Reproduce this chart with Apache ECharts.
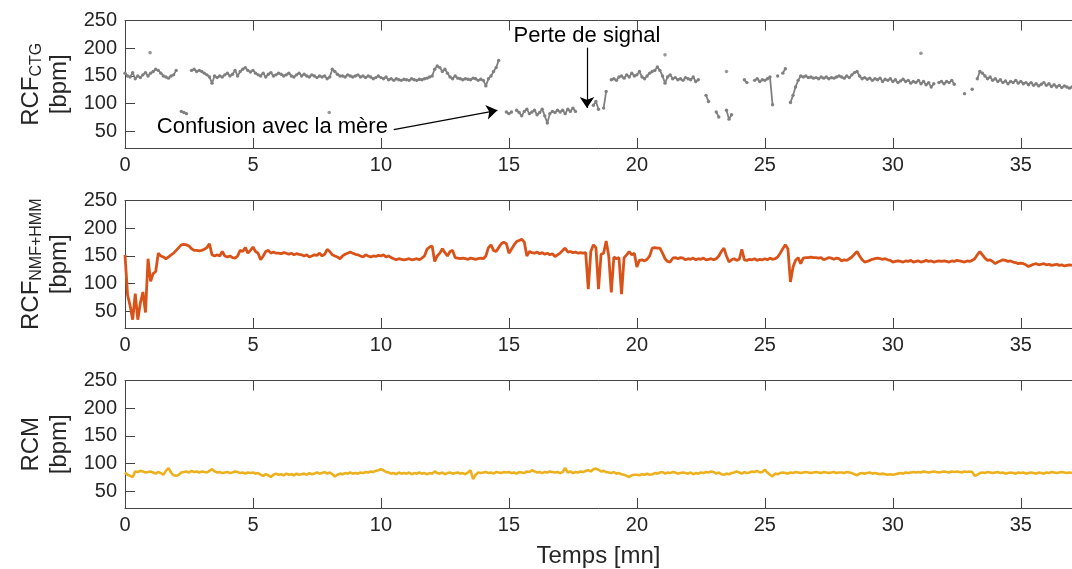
<!DOCTYPE html>
<html><head><meta charset="utf-8">
<script src="https://cdn.jsdelivr.net/npm/echarts@6/dist/echarts.min.js"></script>
<style>html,body{margin:0;padding:0;background:#fff}#c{width:1072px;height:569px}</style>
</head><body><div id="c"></div>
<script>
// sampling step of the traces (minutes)
const dt = 0.1;

// RCF CTG (gray dots), one value per 0.1 min, null = signal gap
const ctg = [
155,150,148,156,145,150,147,152,156,150,
155,158,162,160,155,150,148,146,150,152,
160,null,86,84,82,null,160,162,158,160,
158,155,152,148,137,150,147,150,148,152,
155,150,153,160,150,158,162,165,160,157,
160,155,152,150,155,148,153,156,150,152,
155,153,150,152,155,150,148,152,155,150,
153,150,148,152,150,147,150,148,150,145,
148,162,158,153,150,150,148,152,150,148,
150,152,148,150,147,150,148,145,147,150,
147,145,148,143,145,142,145,143,142,144,
143,142,145,143,142,144,143,145,146,148,
150,162,168,165,158,162,155,148,145,150,
146,145,143,145,144,143,146,145,142,144,
142,132,145,150,158,165,178,null,null,85,
82,85,null,88,84,78,86,90,82,85,
88,80,84,90,78,65,82,86,84,88,
85,88,82,90,86,92,86,null,null,null,
null,null,null,97,104,90,null,92,122,null,
143,145,142,148,150,146,152,148,155,150,
152,158,148,145,150,155,158,160,166,160,
150,137,148,152,145,147,143,145,142,147,
145,143,148,140,143,null,null,115,104,null,
null,85,76,null,null,88,72,80,null,null,
null,null,143,138,null,null,142,145,140,143,
142,145,148,98,null,150,null,155,163,null,
102,115,130,142,150,148,150,147,148,146,
147,145,148,146,148,145,147,146,148,150,
148,146,150,147,152,156,158,150,145,147,
144,146,142,145,143,146,140,144,142,145,
140,143,138,141,144,140,142,137,140,138,
142,136,140,134,138,130,136,null,138,140,
136,140,138,142,135,null,null,null,118,null,
null,126,null,145,158,155,150,145,148,142,
145,140,143,138,141,136,140,138,142,137,
140,136,138,134,138,133,136,132,135,138,
133,136,131,134,130,133,129,132,130,128,
130];

// isolated CTG points [time, bpm]
const ctgIsolated = [[0.98,192],[7.98,84],[21.1,188],[23.5,158],[31.1,191]];

// RCF NMF+HMM (orange), one value per 0.1 min
const nmf = [
152,80,60,35,82,35,65,85,48,145,
104,118,122,155,150,148,145,148,152,155,
160,165,170,171,170,168,163,160,160,159,
160,162,165,172,152,150,152,150,158,150,
148,150,147,146,150,160,158,165,155,160,
166,158,155,143,150,158,160,155,157,155,
155,154,156,155,153,155,152,154,153,152,
150,152,148,150,152,151,155,150,153,162,
158,152,150,148,145,150,153,155,157,155,
153,152,150,148,152,150,148,150,149,151,
150,152,148,150,147,145,143,145,144,143,
144,145,143,144,145,143,146,150,162,166,
168,140,150,155,163,156,150,158,160,147,
146,145,146,145,144,146,145,144,145,146,
145,150,165,170,160,158,165,172,175,172,
155,162,170,176,178,180,175,150,158,156,
155,157,154,156,153,155,152,154,149,152,
155,160,164,157,158,156,157,155,156,155,
156,90,158,170,165,90,153,155,177,150,
84,148,145,147,81,147,152,158,152,155,
130,142,143,141,144,150,164,165,164,164,
155,145,140,139,146,147,145,147,146,143,
145,144,146,143,145,144,146,143,144,145,
143,145,150,158,164,150,139,143,145,142,
144,162,143,142,144,143,145,142,144,143,
145,143,146,144,145,148,155,163,170,163,
103,130,142,147,136,146,147,147,148,147,
147,146,147,143,145,147,146,144,146,145,
141,143,142,145,148,153,158,150,143,139,
140,142,144,145,146,145,144,145,143,142,
139,140,141,140,139,141,140,142,139,140,
141,139,140,142,140,141,139,140,141,140,
141,140,139,141,140,142,141,140,139,141,
140,142,145,152,158,152,146,142,143,140,
136,139,141,143,142,140,141,139,138,136,
137,136,134,131,133,135,136,134,135,136,
134,135,133,134,135,133,134,132,133,134,
133];

// RCM (yellow), one value per 0.1 min
const rcm = [
84,80,78,76,86,85,87,86,84,85,
86,84,82,85,83,80,87,92,84,79,
78,80,84,85,86,84,87,85,86,84,
86,85,84,87,90,86,84,85,83,84,
85,83,84,86,85,83,84,82,84,83,
84,82,83,80,78,81,79,76,80,82,
80,81,79,82,80,81,79,82,80,81,
82,80,83,81,82,84,82,83,85,82,
84,81,77,80,82,81,83,82,84,82,
83,82,84,83,85,84,86,85,87,88,
90,88,85,84,82,83,81,84,82,83,
82,84,81,83,82,84,82,83,81,83,
82,86,83,82,84,81,83,84,82,83,
84,82,83,81,84,88,72,80,84,83,
84,85,83,84,82,85,84,83,85,84,
85,83,84,82,85,84,83,86,85,88,
86,84,85,83,85,84,86,85,84,85,
83,85,92,84,86,83,85,84,86,85,
87,88,86,90,91,89,86,87,85,84,
83,85,82,83,81,80,78,76,79,80,
80,79,81,80,82,80,81,83,82,84,
85,82,84,83,85,84,82,83,84,83,
82,84,81,83,82,84,83,85,84,86,
85,82,84,81,80,82,81,83,84,86,
84,82,85,83,84,86,85,87,84,85,
89,84,80,77,82,81,83,84,83,82,
84,83,85,84,83,84,85,84,83,84,
85,84,83,85,84,83,84,85,83,84,
84,83,85,84,83,81,79,82,83,82,
83,84,82,83,82,81,82,81,80,81,
80,81,82,83,82,84,83,84,85,84,
85,84,86,85,84,85,86,85,84,85,
86,85,84,86,85,86,85,84,86,85,
86,85,78,80,83,84,83,85,84,83,
84,85,83,84,82,83,84,83,82,84,
83,84,82,83,84,83,82,84,83,82,
84,83,85,84,83,84,85,84,83,84,
83];

const xTicks = [0,5,10,15,20,25,30,35];
const yTicks = [50,100,150,200,250];
const xRange = [0, 37];
const yRange = [20, 250];
const yNames = ['{m|RCF}{s|CTG}\n{m|[bpm]}', '{m|RCF}{s|NMF+HMM}\n{m|[bpm]}', '{m|RCM}\n{m|[bpm]}'];
const xName = 'Temps [mn]';
const noteConfusion = {text: 'Confusion avec la mère', at: [10.35, 58], from: [10.5, 53], to: [14.55, 88]};
const noteSignal = {text: 'Perte de signal', at: [18.05, 223], from: [18.05, 201], to: [18.05, 92]};

const FONT = 'Liberation Sans, Arial, Helvetica, sans-serif';
const AX = '#262626';
const BOX = '#444444';

const toPairs = arr => arr.map((v, i) => [Math.round(i * dt * 100) / 100, v]);

const tops = [20.5, 200.5, 380.5];
const grids = tops.map(t => ({left: 125, right: 0, top: t, height: 127.5}));

const xAxes = [];
tops.forEach((t, g) => {
  xAxes.push({
    type: 'value', gridIndex: g, min: xRange[0], max: xRange[1], position: 'bottom',
    axisLine: {show: true, lineStyle: {color: BOX, width: 1}},
    axisTick: {show: true, inside: true, length: 10, customValues: xTicks, lineStyle: {color: BOX}},
    axisLabel: {show: true, customValues: xTicks, fontSize: 20, color: AX, fontFamily: FONT, margin: 7},
    splitLine: {show: false},
    name: g === 2 ? xName : '', nameLocation: 'middle', nameGap: 36,
    nameTextStyle: {fontSize: 24, color: AX, fontFamily: FONT}
  });
  xAxes.push({
    type: 'value', gridIndex: g, min: xRange[0], max: xRange[1], position: 'top',
    axisLine: {show: true, lineStyle: {color: BOX, width: 1}},
    axisTick: {show: true, inside: true, length: 10, customValues: xTicks, lineStyle: {color: BOX}},
    axisLabel: {show: false}, splitLine: {show: false}
  });
});

const yAxes = tops.map((t, g) => ({
  type: 'value', gridIndex: g, min: yRange[0], max: yRange[1],
  axisLine: {show: true, lineStyle: {color: BOX, width: 1}},
  axisTick: {show: true, inside: true, length: 10, customValues: yTicks, lineStyle: {color: BOX}},
  axisLabel: {show: true, customValues: yTicks, fontSize: 20, color: AX, fontFamily: FONT, margin: 8},
  splitLine: {show: false},
  name: yNames[g], nameLocation: 'middle', nameRotate: 90, nameGap: 52,
  nameTextStyle: {
    color: AX, fontFamily: FONT, fontSize: 24, align: 'center',
    rich: {
      m: {fontSize: 24, lineHeight: 28, fontFamily: FONT, color: AX},
      s: {fontSize: 16, lineHeight: 16, verticalAlign: 'bottom', fontFamily: FONT, color: AX}
    }
  }
}));

const labelStyle = {show: true, fontSize: 22, color: '#000', fontFamily: FONT};

const option = {
  animation: false,
  backgroundColor: '#fff',
  grid: grids,
  xAxis: xAxes,
  yAxis: yAxes,
  series: [
    {
      type: 'line', xAxisIndex: 0, yAxisIndex: 0, data: toPairs(ctg),
      connectNulls: false, showSymbol: true, showAllSymbol: true,
      symbol: 'circle', symbolSize: 3.4,
      lineStyle: {color: '#808080', width: 1.8},
      itemStyle: {color: '#808080', borderWidth: 0}, silent: true,
      markLine: {
        silent: true, symbol: ['none', 'arrow'], symbolSize: 11,
        lineStyle: {color: '#000', width: 1.2, type: 'solid'},
        label: {show: false},
        data: [
          [{coord: noteConfusion.from}, {coord: noteConfusion.to}],
          [{coord: noteSignal.from}, {coord: noteSignal.to}]
        ]
      },
      markPoint: {
        silent: true, symbol: 'circle', symbolSize: 0,
        data: [
          {coord: noteConfusion.at, label: Object.assign({}, labelStyle, {position: 'left', distance: 2, formatter: noteConfusion.text})},
          {coord: noteSignal.at, label: Object.assign({}, labelStyle, {position: 'inside', formatter: noteSignal.text})}
        ]
      }
    },
    {
      type: 'scatter', xAxisIndex: 0, yAxisIndex: 0, data: ctgIsolated,
      symbol: 'circle', symbolSize: 3.6, itemStyle: {color: '#808080'}, silent: true
    },
    {
      type: 'line', xAxisIndex: 2, yAxisIndex: 1, data: toPairs(nmf),
      showSymbol: false, lineStyle: {color: '#D95319', width: 2.8}, itemStyle: {color: '#D95319'}, silent: true
    },
    {
      type: 'line', xAxisIndex: 4, yAxisIndex: 2, data: toPairs(rcm),
      showSymbol: false, lineStyle: {color: '#EDB120', width: 2.6}, itemStyle: {color: '#EDB120'}, silent: true
    }
  ]
};

const chart = echarts.init(document.getElementById('c'), null, {renderer: 'canvas'});
chart.setOption(option);
</script>
</body></html>
